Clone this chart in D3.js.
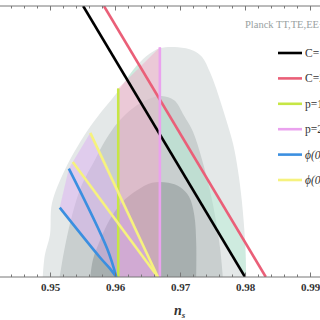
<!DOCTYPE html>
<html>
<head>
<meta charset="utf-8">
<script src="https://cdn.jsdelivr.net/npm/d3@7"></script>
<style>
body { margin: 0; background: #fff; }
svg { display: block; }
</style>
</head>
<body>
<div class="static-image"></div>
<script>
// Planck contours (ns, r)
var outerContour = [[0.9489,0],[0.9492,0.020],[0.9500,0.039],[0.9503,0.068],[0.9523,0.099],[0.9551,0.129],[0.9572,0.147],[0.9603,0.170],[0.9628,0.191],[0.9649,0.204],[0.9669,0.211],[0.9697,0.212],[0.9720,0.209],[0.9734,0.203],[0.9746,0.189],[0.9759,0.168],[0.9771,0.145],[0.9782,0.122],[0.9789,0.099],[0.9795,0.071],[0.9800,0.034],[0.9802,0]];
var middleContour = [[0.9515,0],[0.9522,0.025],[0.9534,0.057],[0.9549,0.085],[0.9569,0.108],[0.9585,0.126],[0.9605,0.143],[0.9628,0.156],[0.9651,0.164],[0.9672,0.167],[0.9691,0.163],[0.9706,0.149],[0.9720,0.134],[0.9734,0.108],[0.9746,0.080],[0.9755,0.053],[0.9762,0.025],[0.9766,0]];
var innerContour = [[0.9562,0],[0.9566,0.016],[0.9577,0.034],[0.9592,0.053],[0.9611,0.069],[0.9634,0.080],[0.9657,0.087],[0.9682,0.087],[0.9700,0.083],[0.9714,0.074],[0.9722,0.057],[0.9725,0.030],[0.9725,0]];

// model predictions
var lineC1 = [[0.9551,0.25],[0.9800,0]];
var lineC2 = [[0.9583,0.25],[0.9832,0]];
var lineP1 = [[0.9605,0],[0.9605,0.174]];
var lineP2 = [[0.9669,0],[0.9669,0.212]];
var linePhi1a = [[0.9515,0.064],[0.9577,0.018],[0.9592,0.008],[0.9602,0]];
var linePhi1b = [[0.9529,0.100],[0.9588,0.026],[0.9602,0]];
var linePhi2a = [[0.9535,0.106],[0.9666,0]];
var linePhi2b = [[0.9562,0.133],[0.9666,0]];

var legendLabels = ["C=1.5", "C=2", "p=1", "p=2", "\u03d5(0)=0.1", "\u03d5(0)=0.2"];
var legendColors = ["#000000", "#ea5f78", "#c6e645", "#eaa2ee", "#3b8fe0", "#f6f27e"];
var xTicksMajor = [0.94, 0.95, 0.96, 0.97, 0.98, 0.99, 1.0];
var xTickLabels = [0.95, 0.96, 0.97, 0.98, 0.99];
var xTicksMinor = d3.range(0, 31).map(function (i) { return +(0.94 + i * 0.002).toFixed(3); });

var width = 320;
var height = 320;
var plotTop = 6;
var plotBottom = 277;
var serif = "'Liberation Serif','Times New Roman',serif";

var x = d3.scaleLinear().domain([0.94, 1.0]).range([-15, 375]);
var y = d3.scaleLinear().domain([0, 0.25]).range([plotBottom, plotTop]);

var smooth = d3.line()
    .x(function (d) { return x(d[0]); })
    .y(function (d) { return y(d[1]); })
    .curve(d3.curveCatmullRom.alpha(0.5));
var straight = d3.line()
    .x(function (d) { return x(d[0]); })
    .y(function (d) { return y(d[1]); });

var svg = d3.select(".static-image")
    .append("svg")
    .attr("width", width)
    .attr("height", height);

var defs = svg.append("defs");
defs.append("clipPath").attr("id", "plot")
    .append("rect")
    .attr("x", -20).attr("y", plotTop)
    .attr("width", 400).attr("height", plotBottom - plotTop);
defs.append("clipPath").attr("id", "outer")
    .append("path")
    .attr("d", smooth(outerContour) + "Z");

var g = svg.append("g").attr("clip-path", "url(#plot)");

// contours
g.append("path").attr("d", smooth(outerContour) + "Z").attr("fill", "#e4e8e8");
g.append("path").attr("d", smooth(middleContour) + "Z").attr("fill", "#c9cfcf");
g.append("path").attr("d", smooth(innerContour) + "Z").attr("fill", "#a7afaf");

// band between the C lines, only inside the contour
var band = lineC1.concat(lineC2.slice().reverse());
g.append("path")
    .attr("d", straight(band) + "Z")
    .attr("clip-path", "url(#outer)")
    .attr("fill", "#b4f0d4")
    .attr("opacity", 0.45);

// p region
var pRegion = lineP1.concat(lineP2.slice().reverse());
g.append("path")
    .attr("d", straight(pRegion) + "Z")
    .attr("fill", "#f4a4c4")
    .attr("opacity", 0.45);

// phi region
var phiRegion = [linePhi1a[0], linePhi1b[0], linePhi2a[0], linePhi2b[0], linePhi2b[1]]
    .concat(linePhi1a.slice().reverse());
g.append("path")
    .attr("d", straight(phiRegion) + "Z")
    .attr("fill", "#dcaaf4")
    .attr("opacity", 0.45);

var lines = [
    {d: lineC1, c: 0, f: straight},
    {d: lineC2, c: 1, f: straight},
    {d: lineP1, c: 2, f: straight},
    {d: lineP2, c: 3, f: straight},
    {d: linePhi2a, c: 5, f: straight},
    {d: linePhi2b, c: 5, f: straight},
    {d: linePhi1a, c: 4, f: smooth},
    {d: linePhi1b, c: 4, f: smooth}
];
g.selectAll("path.model")
    .data(lines)
    .enter()
    .append("path")
    .classed("model", true)
    .attr("d", function (d) { return d.f(d.d); })
    .attr("fill", "none")
    .attr("stroke", function (d) { return legendColors[d.c]; })
    .attr("stroke-width", 2.6);

// axes
function drawAxis(axisFn, ypos, labels) {
    var inward = ypos === plotBottom ? -1 : 1;
    var minor = svg.append("g")
        .attr("transform", "translate(0," + ypos + ")")
        .call(axisFn(x).tickValues(xTicksMinor).tickSize(2.5 * inward).tickFormat(""));
    minor.select(".domain").remove();
    var major = svg.append("g")
        .attr("transform", "translate(0," + ypos + ")")
        .call(axisFn(x).tickValues(xTicksMajor).tickSize(4.5 * inward).tickPadding(6)
            .tickFormat(function (d) {
                return labels && xTickLabels.indexOf(+d.toFixed(2)) >= 0 ? d3.format(".2f")(d) : "";
            }));
    major.select(".domain").attr("stroke", "#777").attr("d", "M-20,0H400");
    svg.selectAll(".tick line").attr("stroke", "#777");
    major.selectAll("text")
        .attr("font-family", serif)
        .attr("font-weight", "bold")
        .attr("font-size", 11)
        .attr("fill", "#333");
}
drawAxis(d3.axisBottom, plotBottom, true);
drawAxis(d3.axisBottom, plotTop, false);

var xl = svg.append("text")
    .attr("x", 174)
    .attr("y", 315)
    .attr("font-family", serif)
    .attr("font-weight", "bold")
    .attr("font-style", "italic")
    .attr("font-size", 14)
    .attr("fill", "#333");
xl.append("tspan").text("n");
xl.append("tspan").attr("dy", 3).attr("font-size", 9).text("s");

svg.append("text")
    .attr("x", 245)
    .attr("y", 28)
    .attr("font-family", serif)
    .attr("font-size", 10.5)
    .attr("fill", "#99a1a1")
    .text("Planck TT,TE,EE+lowP");

// legend
var leg = svg.selectAll("g.leg")
    .data(legendLabels)
    .enter()
    .append("g")
    .classed("leg", true)
    .attr("transform", function (d, i) { return "translate(278," + (53 + i * 25.4) + ")"; });
leg.append("line")
    .attr("x1", 0).attr("x2", 24)
    .attr("stroke", function (d, i) { return legendColors[i]; })
    .attr("stroke-width", 2.6);
leg.append("text")
    .attr("x", 27)
    .attr("y", 4)
    .attr("font-family", serif)
    .attr("font-size", 11.5)
    .attr("font-style", function (d, i) { return i > 3 ? "italic" : "normal"; })
    .attr("fill", "#333")
    .text(function (d) { return d; });
</script>
</body>
</html>
